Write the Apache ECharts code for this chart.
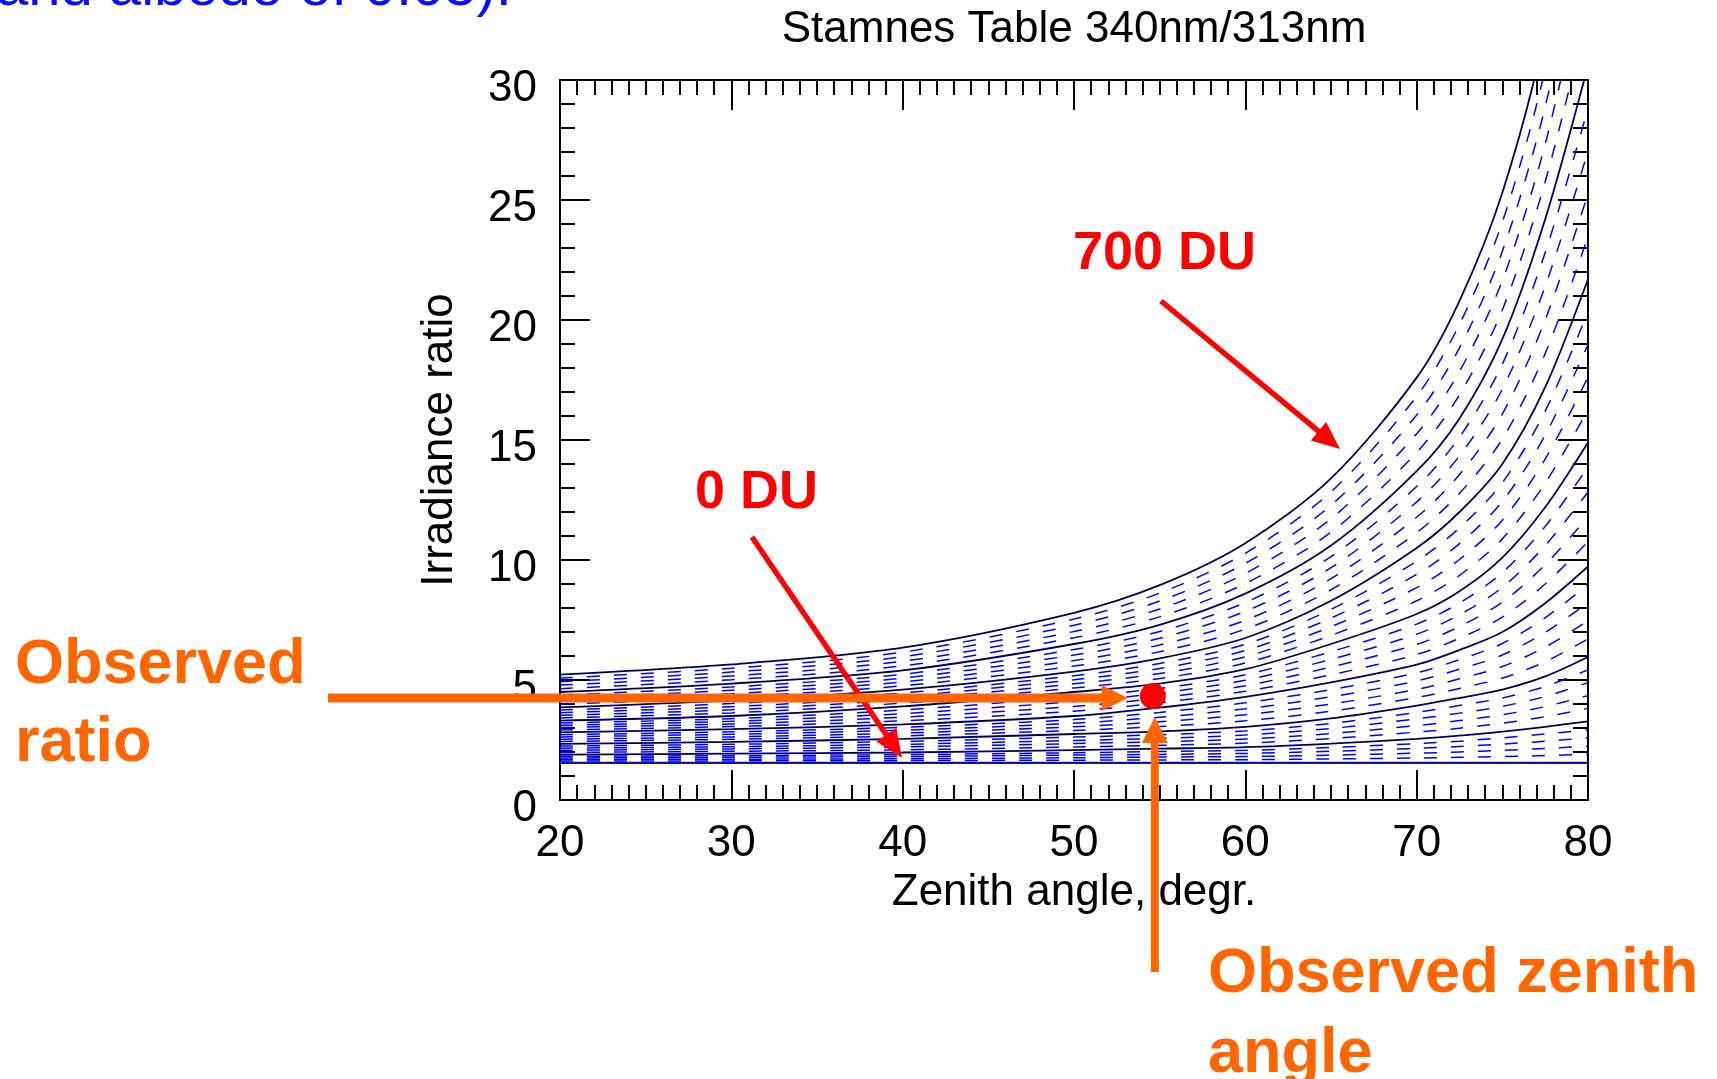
<!DOCTYPE html>
<html><head><meta charset="utf-8">
<script src="https://cdn.jsdelivr.net/npm/echarts@6/dist/echarts.min.js"></script>
<style>html,body{margin:0;padding:0;background:#fff;overflow:hidden}#c{width:1717px;height:1079px}</style>
</head><body><div id="c"></div>
<script>
// ---- data ----
const zenithAngles = [20, 30, 40, 50, 55, 60, 65, 70, 72.5, 75, 77.5, 80];
const du000 = [1.55,1.55,1.55,1.55,1.55,1.55,1.55,1.55,1.55,1.55,1.55,1.55];
const du020 = [1.62,1.63,1.64,1.66,1.67,1.68,1.71,1.75,1.78,1.81,1.85,1.90];
const du040 = [1.69,1.70,1.72,1.76,1.79,1.81,1.87,1.95,2.00,2.07,2.15,2.24];
const du060 = [1.75,1.78,1.81,1.87,1.90,1.94,2.03,2.15,2.23,2.33,2.45,2.59];
const du080 = [1.82,1.85,1.89,1.97,2.02,2.07,2.19,2.35,2.45,2.59,2.75,2.93];
const du100 = [1.89,1.93,1.98,2.08,2.14,2.20,2.35,2.55,2.68,2.85,3.05,3.28];
const du120 = [1.98,2.03,2.09,2.21,2.28,2.37,2.56,2.83,2.99,3.20,3.47,3.82];
const du140 = [2.07,2.13,2.21,2.35,2.43,2.54,2.77,3.10,3.31,3.55,3.89,4.35];
const du160 = [2.16,2.22,2.32,2.48,2.57,2.71,2.98,3.38,3.62,3.90,4.31,4.89];
const du180 = [2.25,2.32,2.44,2.62,2.72,2.88,3.19,3.65,3.94,4.25,4.73,5.42];
const du200 = [2.34,2.42,2.55,2.75,2.86,3.05,3.40,3.93,4.25,4.60,5.15,5.96];
const du220 = [2.44,2.53,2.67,2.90,3.06,3.30,3.70,4.27,4.65,5.08,5.76,6.71];
const du240 = [2.53,2.63,2.79,3.05,3.26,3.55,4.00,4.61,5.05,5.56,6.37,7.47];
const du260 = [2.63,2.74,2.91,3.20,3.45,3.80,4.30,4.96,5.45,6.04,6.98,8.22];
const du280 = [2.72,2.84,3.03,3.35,3.65,4.05,4.60,5.30,5.85,6.52,7.59,8.98];
const du300 = [2.82,2.95,3.15,3.50,3.85,4.30,4.90,5.64,6.25,7.00,8.20,9.73];
const du320 = [2.92,3.06,3.30,3.70,4.05,4.53,5.22,6.06,6.74,7.62,9.00,10.76];
const du340 = [3.02,3.17,3.45,3.90,4.25,4.76,5.54,6.48,7.23,8.24,9.80,11.80];
const du360 = [3.11,3.28,3.60,4.10,4.45,4.99,5.86,6.91,7.72,8.86,10.60,12.83];
const du380 = [3.21,3.39,3.75,4.30,4.65,5.22,6.18,7.33,8.21,9.48,11.40,13.87];
const du400 = [3.31,3.50,3.90,4.50,4.85,5.45,6.50,7.75,8.70,10.10,12.20,14.90];
const du420 = [3.42,3.63,4.04,4.67,5.06,5.71,6.86,8.30,9.36,10.88,13.20,16.26];
const du440 = [3.53,3.76,4.18,4.84,5.27,5.97,7.22,8.85,10.02,11.66,14.20,17.62];
const du460 = [3.64,3.89,4.32,5.01,5.48,6.23,7.58,9.40,10.68,12.44,15.20,18.98];
const du480 = [3.75,4.02,4.46,5.18,5.69,6.49,7.94,9.95,11.34,13.22,16.20,20.34];
const du500 = [3.86,4.15,4.60,5.35,5.90,6.75,8.30,10.50,12.00,14.00,17.20,21.70];
const du520 = [3.99,4.29,4.76,5.58,6.18,7.12,8.76,11.14,12.78,15.04,18.60,23.48];
const du540 = [4.12,4.43,4.92,5.81,6.46,7.49,9.22,11.78,13.56,16.08,20.00,25.26];
const du560 = [4.24,4.57,5.08,6.04,6.74,7.86,9.68,12.42,14.34,17.12,21.40,27.04];
const du580 = [4.37,4.71,5.24,6.27,7.02,8.23,10.14,13.06,15.12,18.16,22.80,28.82];
const du600 = [4.50,4.85,5.40,6.50,7.30,8.60,10.60,13.70,15.90,19.20,24.20,30.60];
const du620 = [4.64,5.01,5.59,6.76,7.63,9.02,11.16,14.48,16.88,20.42,25.76,32.88];
const du640 = [4.79,5.17,5.78,7.02,7.96,9.44,11.72,15.26,17.86,21.64,27.32,35.16];
const du660 = [4.93,5.33,5.97,7.28,8.29,9.86,12.28,16.04,18.84,22.86,28.88,37.44];
const du680 = [5.08,5.49,6.16,7.54,8.62,10.28,12.84,16.82,19.82,24.08,30.44,39.72];
const du700 = [5.22,5.65,6.35,7.80,8.95,10.70,13.40,17.60,20.80,25.30,32.00,42.00];

const ozoneLevels = [0,20,40,60,80,100,120,140,160,180,200,220,240,260,280,300,320,340,360,380,
                     400,420,440,460,480,500,520,540,560,580,600,620,640,660,680,700];
const ozoneCurves = [du000,du020,du040,du060,du080,du100,du120,du140,du160,du180,du200,du220,du240,
                     du260,du280,du300,du320,du340,du360,du380,du400,du420,du440,du460,du480,du500,
                     du520,du540,du560,du580,du600,du620,du640,du660,du680,du700];

const observedPoint = [54.6, 4.33];   // zenith angle, ratio

const xTickValues = [20, 30, 40, 50, 60, 70, 80];
const yTickValues = [0, 5, 10, 15, 20, 25, 30];

const titleText = 'Stamnes Table 340nm/313nm';
const xAxisTitle = 'Zenith angle, degr.';
const yAxisTitle = 'Irradiance ratio';
const topText = 'and albedo of 0.05).';
const label0 = '0 DU';
const label700 = '700 DU';
const labelRatio = 'Observed\nratio';
const labelZenith = 'Observed zenith\nangle';

// ---- chart ----
const FONT = '"Liberation Sans", Arial, Helvetica, sans-serif';
const chart = echarts.init(document.getElementById('c'), null, {renderer: 'canvas'});

const series = ozoneCurves.map((arr, i) => {
  const solid = ozoneLevels[i] % 100 === 0;
  const base = ozoneLevels[i] === 0;
  return {
    type: 'line',
    name: ozoneLevels[i] + ' DU',
    data: zenithAngles.map((x, j) => [x, arr[j]]),
    showSymbol: false, symbol: 'none',
    smooth: 0.3,
    clip: true, silent: true, animation: false,
    z: solid ? 4 : 3,
    lineStyle: solid
      ? {color: base ? '#1010a0' : '#00005a', width: base ? 2.2 : 1.8, type: 'solid'}
      : {color: '#0000ff', width: 1.5, type: [13, 14]}
  };
});
series.push({
  type: 'scatter', data: [observedPoint], symbol: 'circle', symbolSize: 26,
  itemStyle: {color: '#ff0000', opacity: 1}, z: 10, silent: true, animation: false
});

const axisLine = {show: true, onZero: false, lineStyle: {color: '#000', width: 2}};
function xAx(pos, showLabel) {
  return {
    type: 'value', min: xTickValues[0], max: xTickValues[xTickValues.length - 1], interval: 10,
    position: pos, axisLine,
    axisTick: {show: true, inside: true, length: 30, lineStyle: {color: '#000', width: 2}},
    minorTick: {show: true, splitNumber: 10, length: 15, lineStyle: {color: '#000', width: 2}},
    splitLine: {show: false}, minorSplitLine: {show: false},
    axisLabel: {show: showLabel, fontSize: 44, fontFamily: FONT, color: '#000', margin: 22},
    name: showLabel ? xAxisTitle : '', nameLocation: 'middle', nameGap: 68,
    nameTextStyle: {fontSize: 44, fontFamily: FONT, color: '#000'}
  };
}
function yAx(pos, showLabel) {
  return {
    type: 'value', min: yTickValues[0], max: yTickValues[yTickValues.length - 1], interval: 5,
    position: pos, axisLine,
    axisTick: {show: true, inside: true, length: 30, lineStyle: {color: '#000', width: 2}},
    minorTick: {show: true, splitNumber: 5, length: 15, lineStyle: {color: '#000', width: 2}},
    splitLine: {show: false}, minorSplitLine: {show: false},
    axisLabel: {show: showLabel, fontSize: 44, fontFamily: FONT, color: '#000', margin: 23,
                verticalAlign: 'top', lineHeight: 17},
    name: showLabel ? yAxisTitle : '', nameLocation: 'middle', nameGap: 98,
    nameTextStyle: {fontSize: 44, fontFamily: FONT, color: '#000'}
  };
}

function arrow(x1, y1, x2, y2, color, w, headLen, headW) {
  const dx = x2 - x1, dy = y2 - y1, L = Math.hypot(dx, dy);
  const ux = dx / L, uy = dy / L, px = -uy, py = ux;
  const bx = x2 - ux * headLen, by = y2 - uy * headLen;
  return [
    {type: 'line', shape: {x1, y1, x2: bx + ux * 2, y2: by + uy * 2},
     style: {stroke: color, lineWidth: w, lineCap: 'butt'}, z: 20, silent: true},
    {type: 'polygon', shape: {points: [[x2, y2], [bx + px * headW / 2, by + py * headW / 2], [bx - px * headW / 2, by - py * headW / 2]]},
     style: {fill: color}, z: 20, silent: true}
  ];
}

chart.setOption({
  animation: false,
  backgroundColor: '#fff',
  grid: {left: 560, top: 80, width: 1028, height: 720, containLabel: false},
  xAxis: [xAx('bottom', true), xAx('top', false)],
  yAxis: [yAx('left', true), yAx('right', false)],
  series
});

const p = chart.convertToPixel({xAxisIndex: 0, yAxisIndex: 0}, observedPoint);
const txt = (x, y, text, size, color, bold, extra) => Object.assign({
  type: 'text', x, y, z: 30, silent: true,
  style: Object.assign({text, fontSize: size, fontFamily: FONT, fontWeight: bold ? 'bold' : 'normal',
    fill: color, align: 'left', verticalAlign: 'middle'}, extra || {})
});

const graphic = [
  txt(1074, 29.5, titleText, 44, '#000', false, {align: 'center'}),
  txt(-4, -11, topText, 58, '#0a0aff', false),
  txt(695, 493, label0, 54, '#ff0000', true),
  txt(1073, 254, label700, 54, '#ff0000', true),
  txt(15, 627, labelRatio, 63, '#ff6600', true, {verticalAlign: 'top', lineHeight: 78}),
  txt(1208, 935, labelZenith, 63, '#ff6600', true, {verticalAlign: 'top', lineHeight: 80}),
  ...arrow(752, 537, 902, 758, '#ff0000', 5.5, 28, 24),
  ...arrow(1161, 301, 1340, 449, '#ff0000', 5.5, 28, 24),
  ...arrow(328, p[1] + 2, p[0] - 25, p[1] + 2, '#ff6600', 9, 26, 26),
  ...arrow(p[0] + 2, 972, p[0] + 2, p[1] + 21, '#ff6600', 8, 26, 26)
];
chart.setOption({graphic});
</script>
</body></html>
